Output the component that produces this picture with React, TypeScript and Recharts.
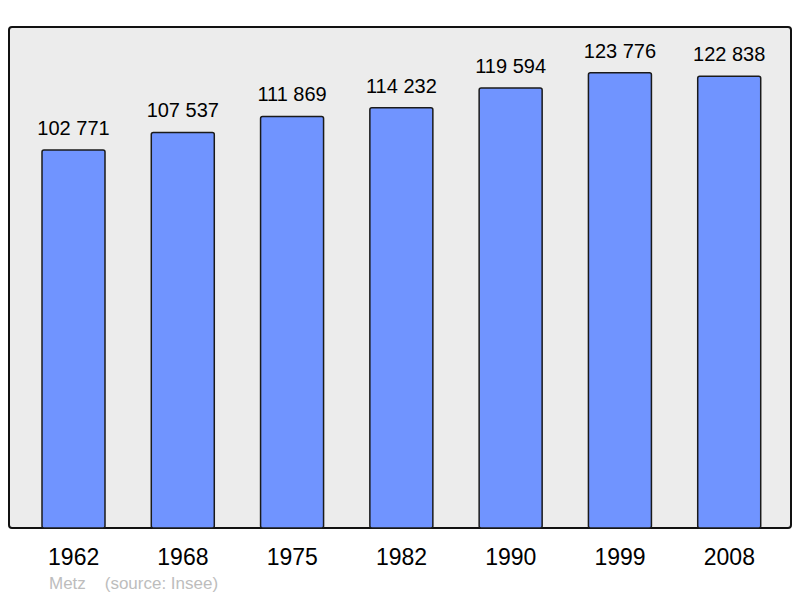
import React from "react";
import { BarChart, Bar, XAxis, YAxis, LabelList } from "recharts";

// census years and population of Metz
const years = ["1962", "1968", "1975", "1982", "1990", "1999", "2008"];
const population = [102771, 107537, 111869, 114232, 119594, 123776, 122838];
const yMax = 136200;

const chartData = years.map((year, i) => ({ year, value: population[i] }));

// "102771" -> "102 771"
const formatNumber = (v: any) => String(v).replace(/\B(?=(\d{3})+(?!\d))/g, " ");

const font = "'Liberation Sans', Arial, sans-serif";

const YearTick = (props: any) => {
  const { x, y, payload } = props;
  return (
    <text x={x} y={y + 29} textAnchor="middle" fontSize={23} fill="#000" fontFamily={font}>
      {payload.value}
    </text>
  );
};

const App = () => {
  return (
    <div style={{ position: "absolute", left: 0, top: 0, width: 800, height: 598, background: "#fff" }}>
      {/* grey frame behind the plot */}
      <div
        style={{
          position: "absolute",
          left: 8,
          top: 26,
          width: 784,
          height: 503,
          boxSizing: "border-box",
          border: "2px solid #111",
          borderRadius: 4,
          background: "#ececec",
        }}
      />
      <div style={{ position: "absolute", left: 0, top: 0 }}>
        <BarChart
          width={800}
          height={598}
          data={chartData}
          margin={{ top: 27, right: 16, bottom: 40, left: 19 }}
        >
          <XAxis
            dataKey="year"
            height={30}
            axisLine={false}
            tickLine={false}
            tick={<YearTick />}
            interval={0}
          />
          <YAxis hide domain={[0, yMax]} />
          <Bar
            dataKey="value"
            fill="#7094ff"
            stroke="#1a1a1a"
            strokeWidth={1.5}
            barSize={63}
            radius={2}
            isAnimationActive={false}
          >
            <LabelList
              dataKey="value"
              position="top"
              offset={15}
              formatter={formatNumber}
              fontSize={20}
              fill="#000"
              fontFamily={font}
            />
          </Bar>
        </BarChart>
      </div>
      <div
        style={{
          position: "absolute",
          left: 49,
          top: 574,
          fontFamily: font,
          fontSize: 17,
          color: "#bdbdbd",
          whiteSpace: "pre",
        }}
      >
        {"Metz    (source: Insee)"}
      </div>
    </div>
  );
};

export default App;
